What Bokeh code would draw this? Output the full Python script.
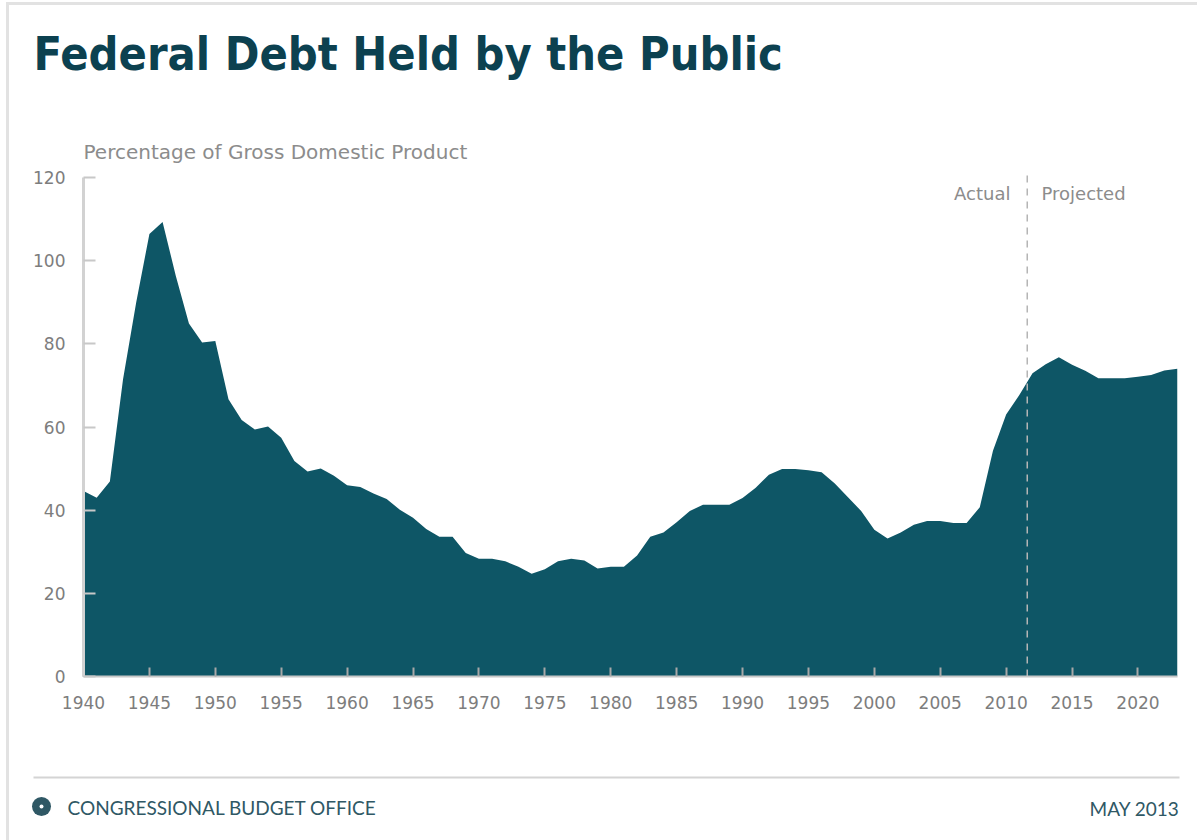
from bokeh.plotting import figure
from bokeh.models import Label, BoxAnnotation, FixedTicker, Range1d
from bokeh.layouts import column
from bokeh.embed import file_html
from bokeh.resources import INLINE

# ---- data ----
years = list(range(1940, 2024))
debt = [44.6, 43.0, 46.9, 71.5, 90.0, 106.4, 109.3, 96.4, 84.9, 80.3,
        80.7, 66.7, 61.7, 59.4, 60.1, 57.4, 51.8, 49.3, 50.0, 48.3,
        46.0, 45.6, 44.0, 42.7, 40.1, 38.2, 35.5, 33.6, 33.6, 29.7,
        28.3, 28.3, 27.7, 26.4, 24.7, 25.8, 27.7, 28.3, 27.9, 26.0,
        26.4, 26.4, 29.1, 33.6, 34.6, 37.1, 39.8, 41.3, 41.3, 41.3,
        42.9, 45.4, 48.5, 49.9, 49.9, 49.6, 49.1, 46.4, 43.1, 39.8,
        35.3, 33.2, 34.6, 36.5, 37.4, 37.4, 36.9, 36.9, 40.7, 54.3,
        63.0, 67.7, 72.9, 75.1, 76.8, 75.0, 73.5, 71.7, 71.7, 71.7,
        72.1, 72.5, 73.6, 74.0]
x_ticks = list(range(1940, 2021, 5))
y_ticks = [0, 20, 40, 60, 80, 100, 120]
split_year = 2011.6
divider_top = 121.8

title_text = "Federal Debt Held by the Public"
ylabel_text = "Percentage of Gross Domestic Product"
actual_text = "Actual"
projected_text = "Projected"
source_text = "CONGRESSIONAL BUDGET OFFICE"
date_text = "MAY 2013"

AREA = "#0e5666"
TITLE_C = "#0c4150"
GRAY = "#7d7d7d"
LGRAY = "#8c8c8c"
FOOT_C = "#2f5865"

# page geometry (canvas pixels)
OX, OY = 9, 5          # content origin inside the page border
W = 1197 - OX
TOP_H = 130            # top band: OY .. 135
MAIN_H = 610           # chart: 135 .. 745
FOOT_H = 840 - OY - TOP_H - MAIN_H
FL, FR = 83, 1177      # frame left / right (canvas x)
F_TOP, F_BOT = 135, 676


def deco_fig(y0, h):
    f = figure(width=W, height=h, output_backend="svg", toolbar_location=None,
               x_range=Range1d(OX, OX + W), y_range=Range1d(y0 + h, y0),
               min_border=0, title=None, frame_align=False)
    f.axis.visible = False
    f.grid.visible = False
    f.outline_line_color = None
    f.background_fill_color = "white"
    f.border_fill_color = "white"
    return f


def dlab(f, text, x, y, size, color, font="DejaVu Sans", align="left",
         baseline="middle", style="normal"):
    f.add_layout(Label(x=x, y=y, text=text, text_font=font, text_font_size=size,
                       text_color=color, text_align=align,
                       text_baseline=baseline, text_font_style=style))


# ---- top band ----
top = deco_fig(OY, TOP_H)
dlab(top, title_text, 33, 53, "46.5px", TITLE_C, font="DejaVu Sans Condensed",
     baseline="middle", style="bold")

# ---- main chart ----
p = figure(width=W, height=MAIN_H, output_backend="svg", toolbar_location=None,
           title=None, frame_align=False,
           x_range=Range1d(1940, 2023),
           y_range=Range1d(0, 120 * (F_BOT - F_TOP) / (676 - 177)),
           min_border_left=FL - OX, min_border_right=1197 - FR,
           min_border_top=0, min_border_bottom=(F_TOP + MAIN_H) - F_BOT,
           background_fill_color="white", border_fill_color="white")
p.outline_line_color = None
p.xgrid.visible = False
p.ygrid.visible = False

p.varea(x=years, y1=0, y2=debt, fill_color=AREA)
p.segment(x0=[split_year], y0=[0], x1=[split_year], y1=[divider_top],
          line_color="#b5b5b5", line_width=1.5, line_dash="7 6")

xa = p.xaxis[0]
xa.ticker = FixedTicker(ticks=x_ticks)
xa.axis_line_color = "#c8c8c8"
xa.axis_line_width = 2
xa.major_tick_in = 9
xa.major_tick_out = 0
xa.major_tick_line_color = "#a8a8a8"
xa.major_tick_line_width = 2
xa.minor_tick_line_color = None
xa.major_label_text_font = "DejaVu Sans"
xa.major_label_text_font_size = "17px"
xa.major_label_text_color = GRAY
xa.major_label_standoff = 19

ya = p.yaxis[0]
ya.ticker = FixedTicker(ticks=y_ticks)
ya.bounds = (0, 120)
ya.axis_line_color = "#d2d2d2"
ya.axis_line_width = 3
ya.major_tick_in = 12
ya.major_tick_out = 0
ya.major_tick_line_color = "#c8c8c8"
ya.major_tick_line_width = 2
ya.minor_tick_line_color = None
ya.major_label_text_font = "DejaVu Sans"
ya.major_label_text_font_size = "17px"
ya.major_label_text_color = GRAY
ya.major_label_standoff = 18


def flab(text, cx, cy, size, color, align="left"):
    # position in canvas pixels, converted to frame-relative screen units
    p.add_layout(Label(x=cx - FL, y=F_BOT - cy, x_units="screen", y_units="screen",
                       text=text, text_font="DejaVu Sans", text_font_size=size,
                       text_color=color, text_align=align, text_baseline="middle"))


flab(ylabel_text, 83, 151, "20px", LGRAY)
flab(actual_text, 1010, 193, "18px", LGRAY, align="right")
flab(projected_text, 1041, 193, "18px", LGRAY)

# ---- footer ----
foot_y0 = F_TOP + MAIN_H
foot = deco_fig(foot_y0, FOOT_H)
foot.add_layout(BoxAnnotation(left=33, right=1179, top=776, bottom=778,
                              fill_color="#d4d4d4", fill_alpha=1, line_color=None))
foot.scatter(x=[41], y=[806], size=19, marker="circle", fill_color=FOOT_C,
             line_color=None)
foot.scatter(x=[41], y=[806], size=4, marker="circle", fill_color="white",
             line_color=None)
dlab(foot, source_text, 67, 807, "19px", FOOT_C, font="Lato")
dlab(foot, date_text, 1179, 808, "19px", FOOT_C, font="Lato", align="right")

page = column(top, p, foot, spacing=0,
              styles={"margin-left": "6px", "margin-top": "2px",
                      "border-left": "3px solid #e2e2e2",
                      "border-top": "3px solid #e2e2e2"})

open("out.html", "w").write(file_html(page, INLINE))
